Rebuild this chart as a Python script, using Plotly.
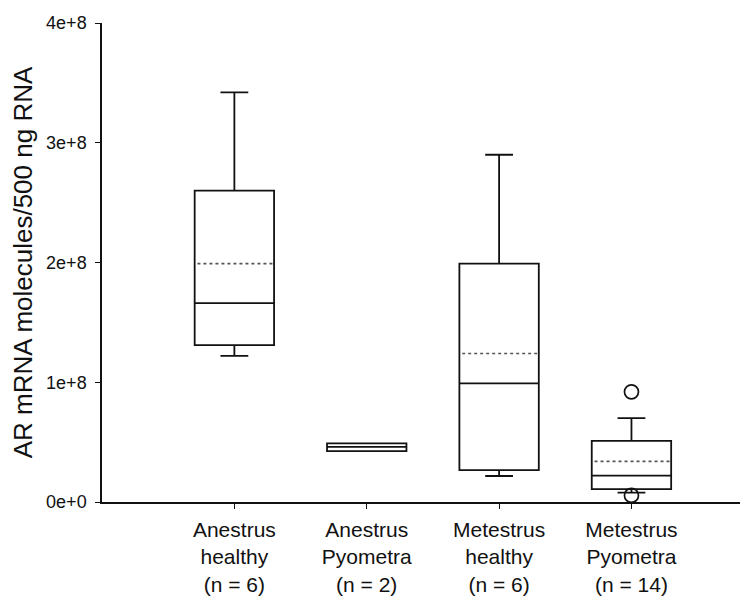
import plotly.graph_objects as go

# ---- data ----
categories = ["Anestrus<br>healthy<br>(n = 6)", "Anestrus<br>Pyometra<br>(n = 2)",
              "Metestrus<br>healthy<br>(n = 6)", "Metestrus<br>Pyometra<br>(n = 14)"]
positions = [1, 2, 3, 4]
q1 = [1.31e8, 0.425e8, 0.267e8, 0.108e8]
median = [1.66e8, 0.46e8, 0.99e8, 0.22e8]
q3 = [2.60e8, 0.49e8, 1.99e8, 0.51e8]
lower_whisker = [1.22e8, 0.425e8, 0.217e8, 0.078e8]
upper_whisker = [3.42e8, 0.49e8, 2.90e8, 0.70e8]
mean = [1.99e8, None, 1.24e8, 0.34e8]
outlier_pos = [4, 4]
outlier_val = [0.92e8, 0.055e8]

y_tickvals = [0, 1e8, 2e8, 3e8, 4e8]
y_ticktext = ["0e+0", "1e+8", "2e+8", "3e+8", "4e+8"]

BOX_W = 0.6
FONT = "Liberation Sans, Arial, sans-serif"

fig = go.Figure()

fig.add_trace(go.Box(
    x=positions, q1=q1, median=median, q3=q3,
    lowerfence=lower_whisker, upperfence=upper_whisker,
    width=BOX_W, whiskerwidth=0.35, boxpoints=False,
    fillcolor="white", line=dict(color="#111111", width=1.8),
    showlegend=False, hoverinfo="skip",
))

# mean (dotted) lines
for p, m in zip(positions, mean):
    if m is None:
        continue
    fig.add_trace(go.Scatter(
        x=[p - BOX_W / 2 * 0.93, p + BOX_W / 2 * 0.98], y=[m, m], mode="lines",
        line=dict(color="#555555", width=1.7, dash="dot"),
        showlegend=False, hoverinfo="skip",
    ))

# outliers
fig.add_trace(go.Scatter(
    x=outlier_pos, y=outlier_val, mode="markers",
    marker=dict(symbol="circle-open", size=14, color="#111111", line=dict(width=1.7)),
    showlegend=False, hoverinfo="skip", cliponaxis=True,
))

# the page body adds an 8px margin, so the figure is 8px smaller and shifted
fig.update_layout(
    width=747, height=591,
    margin=dict(l=94, r=15, t=15, b=97),
    paper_bgcolor="white", plot_bgcolor="white",
    font=dict(family=FONT, color="#111111"),
)
fig.update_xaxes(
    range=[0, 4.82], tickvals=positions, ticktext=categories, automargin=False,
    showgrid=False, zeroline=False, showline=True, linecolor="#111111", linewidth=1.5,
    ticks="outside", ticklen=5, tickwidth=1.2, tickcolor="#111111",
    tickfont=dict(size=21, family=FONT), ticklabelstandoff=3,
)
fig.update_yaxes(
    range=[0, 4e8], tickvals=y_tickvals, ticktext=y_ticktext, automargin=False,
    showgrid=False, zeroline=False, showline=True, linecolor="#111111", linewidth=1.5,
    ticks="outside", ticklen=5, tickwidth=1.2, tickcolor="#111111",
    tickfont=dict(size=18, family=FONT), ticklabelstandoff=5,
    title=dict(text="AR mRNA molecules/500 ng RNA", font=dict(size=26, family=FONT), standoff=6),
)

fig.write_html("out.html")
